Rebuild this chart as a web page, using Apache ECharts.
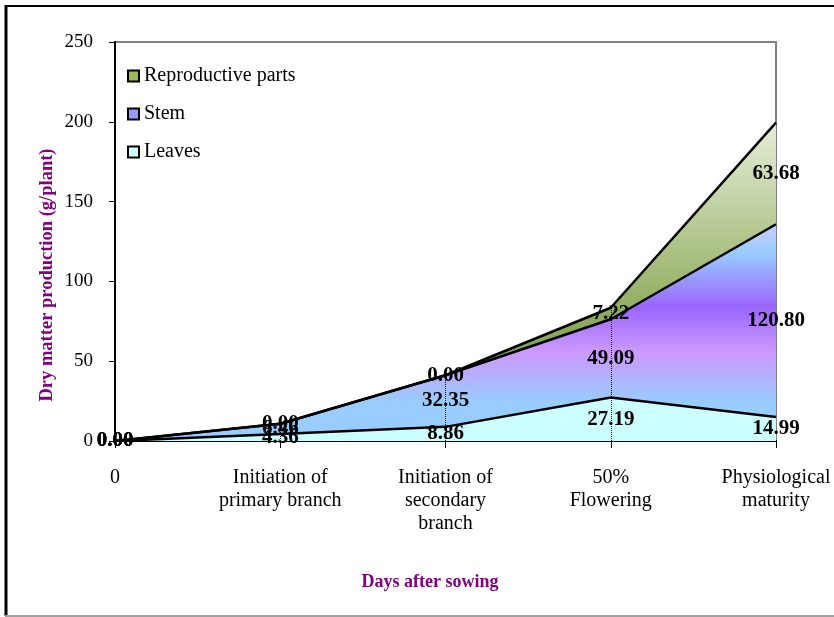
<!DOCTYPE html>
<html>
<head>
<meta charset="utf-8">
<script src="https://cdn.jsdelivr.net/npm/echarts@6/dist/echarts.min.js"></script>
<style>html,body{margin:0;padding:0;background:#fff;}#c{width:834px;height:617px;}</style>
</head>
<body>
<div id="c"></div>
<script>
const categories = ['0', 'Initiation of\nprimary branch', 'Initiation of\nsecondary\nbranch', '50%\nFlowering', 'Physiological\nmaturity'];
const leaves = [0.00, 4.36, 8.86, 27.19, 14.99];
const stem = [0.00, 6.46, 32.35, 49.09, 120.80];
const reproductive = [0.00, 0.00, 0.00, 7.22, 63.68];
const yTicks = { min: 0, max: 250, interval: 50 };

const FONT = "'Liberation Serif', 'Times New Roman', serif";
const chart = echarts.init(document.getElementById('c'));

const layers = [leaves, stem, reproductive];
function labelData(idx) {
  return layers[idx].map((v, i) => {
    let lower = 0;
    for (let k = 0; k < idx; k++) lower += layers[k][i];
    return [i, lower + v / 2, v];
  });
}
const totals = leaves.map((v, i) => v + stem[i] + reproductive[i]);
const dropLines = [1, 2, 3].map(i => [{ coord: [i, 0] }, { coord: [i, totals[i]] }]);

const leafFill = '#ccffff';
const stemFill = new echarts.graphic.LinearGradient(0, 0, 0, 1, [
  { offset: 0, color: '#ccccff' },
  { offset: 0.13, color: '#99ccff' },
  { offset: 0.38, color: '#9966ff' },
  { offset: 0.59, color: '#cc99ff' },
  { offset: 0.82, color: '#99ccff' },
  { offset: 1, color: '#99ccff' }
]);
const reproFill = new echarts.graphic.LinearGradient(0, 0, 0, 1, [
  { offset: 0, color: '#e6eed8' },
  { offset: 0.6, color: '#8fac5c' },
  { offset: 1, color: '#77933c' }
]);

function areaSeries(name, data, fill, extra) {
  return Object.assign({
    name: name, type: 'line', stack: 'total', data: data,
    symbol: 'none', showSymbol: false,
    lineStyle: { color: '#000', width: 2.5 },
    itemStyle: { color: '#000' },
    areaStyle: { color: fill, opacity: 1 },
    z: 2
  }, extra || {});
}
function labelSeries(idx) {
  return {
    type: 'scatter', data: labelData(idx), symbolSize: 0, silent: true, z: 5,
    itemStyle: { opacity: 1, color: '#000' },
    label: {
      show: true, position: 'inside', opacity: 1,
      formatter: p => p.data[2].toFixed(2),
      fontFamily: FONT, fontWeight: 'bold', fontSize: 21, color: '#000'
    }
  };
}

chart.setOption({
  animation: false,
  grid: { left: 115, top: 42, right: 58, bottom: 176, show: true, borderColor: '#808080', borderWidth: 2 },
  legend: {
    orient: 'vertical', left: 122, top: 61, itemGap: 18,
    icon: 'rect', itemWidth: 11, itemHeight: 11,
    textStyle: { fontFamily: FONT, fontSize: 20, color: '#000' },
    data: [
      { name: 'Reproductive parts', itemStyle: { color: '#9bbb59', borderColor: '#000', borderWidth: 2 } },
      { name: 'Stem', itemStyle: { color: '#9999ff', borderColor: '#000', borderWidth: 2 } },
      { name: 'Leaves', itemStyle: { color: '#ccffff', borderColor: '#000', borderWidth: 2 } }
    ]
  },
  xAxis: {
    type: 'category', data: categories, boundaryGap: false,
    axisLine: { lineStyle: { color: '#000', width: 2 } },
    axisTick: { show: true, length: 7, lineStyle: { color: '#000', width: 1 } },
    axisLabel: { fontFamily: FONT, fontSize: 20, color: '#000', margin: 25, lineHeight: 23, interval: 0 },
    splitLine: { show: false }
  },
  yAxis: {
    type: 'value', min: yTicks.min, max: yTicks.max, interval: yTicks.interval,
    axisLine: { show: true, lineStyle: { color: '#000', width: 2 } },
    axisTick: { show: true, length: 6, lineStyle: { color: '#000', width: 1 } },
    axisLabel: { fontFamily: FONT, fontSize: 19, color: '#000', margin: 22 },
    splitLine: { show: false }
  },
  series: [
    areaSeries('Leaves', leaves, leafFill),
    areaSeries('Stem', stem, stemFill),
    areaSeries('Reproductive parts', reproductive, reproFill, {
      markLine: {
        silent: true, symbol: 'none', label: { show: false },
        lineStyle: { color: '#000', type: 'dotted', width: 1 },
        data: dropLines
      }
    }),
    labelSeries(0), labelSeries(1), labelSeries(2)
  ],
  graphic: [
    { type: 'line', shape: { x1: 5, y1: 6, x2: 834, y2: 6 }, style: { stroke: '#000', lineWidth: 2 } },
    { type: 'line', shape: { x1: 6, y1: 5, x2: 6, y2: 616 }, style: { stroke: '#000', lineWidth: 3 } },
    { type: 'line', shape: { x1: 5, y1: 616, x2: 834, y2: 616 }, style: { stroke: '#a0a0a0', lineWidth: 2 } },
    { type: 'text', x: 430, y: 582, style: { text: 'Days after sowing', fontFamily: FONT, fontWeight: 'bold', fontSize: 18, fill: '#800080', align: 'center', verticalAlign: 'middle' } },
    { type: 'text', x: 47, y: 275, rotation: Math.PI / 2, style: { text: 'Dry matter production (g/plant)', fontFamily: FONT, fontWeight: 'bold', fontSize: 18.5, fill: '#800080', align: 'center', verticalAlign: 'middle' } }
  ]
});
</script>
</body>
</html>
